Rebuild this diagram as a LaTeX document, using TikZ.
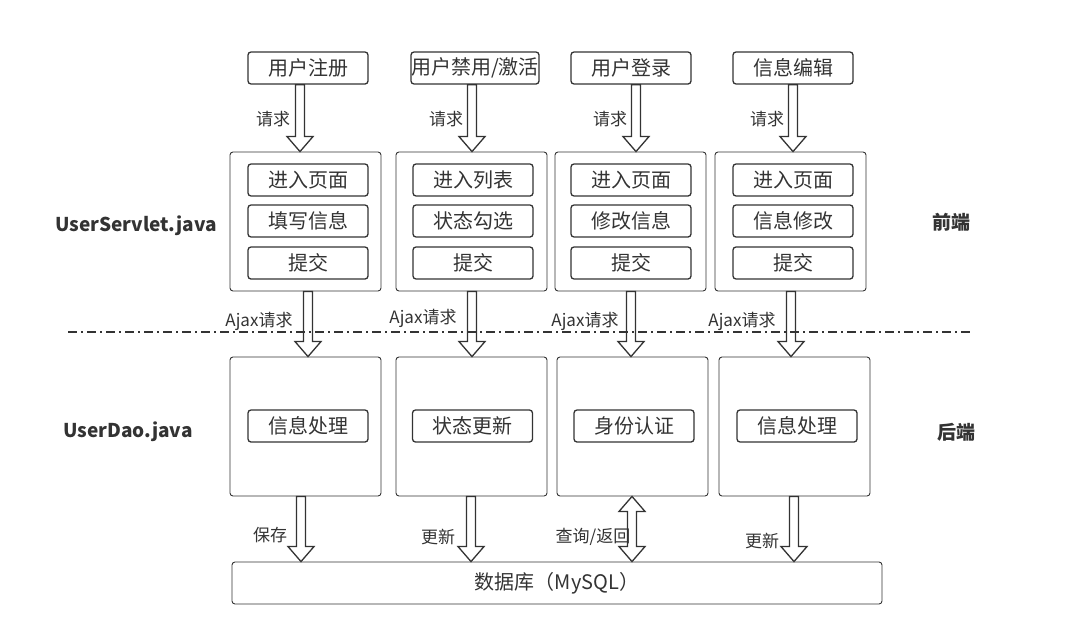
\documentclass[tikz,border=0pt]{standalone}
\usepackage{fontspec}
\setmainfont{Noto Sans CJK SC}
\usetikzlibrary{calc}
\definecolor{linegray}{HTML}{333333}
\tikzset{
  box/.style={draw=linegray, line width=1.3pt, rounded corners=3pt, minimum width=120pt, minimum height=32pt, inner sep=0pt, font=\fontsize{20}{20}\selectfont},
  group/.style={draw=linegray, line width=0.9pt, rounded corners=3pt, minimum width=151pt, minimum height=139pt, inner sep=0pt},
  lbl/.style={font=\fontsize{17}{17}\selectfont, inner sep=0pt},
  side/.style={font=\fontsize{19}{19}\selectfont\bfseries, inner sep=0pt},
  hollow/.style={draw=linegray, line width=1.3pt, fill=white, line join=miter},
}
\def\makearrow#1#2#3{
  \draw[hollow] let \p1=(#2), \p2=(#3) in
    ({#1*1pt-4.5pt},\y1) -- ({#1*1pt-4.5pt},{\y2+15pt}) -- ({#1*1pt-13pt},{\y2+15pt})
    -- ({#1*1pt},\y2) -- ({#1*1pt+13pt},{\y2+15pt}) -- ({#1*1pt+4.5pt},{\y2+15pt})
    -- ({#1*1pt+4.5pt},\y1) -- cycle;
}
\def\makedoublearrow#1#2#3{
  \draw[hollow] let \p1=(#2), \p2=(#3) in
    ({#1*1pt-4.5pt},{\y1-15pt}) -- ({#1*1pt-4.5pt},{\y2+15pt}) -- ({#1*1pt-13pt},{\y2+15pt})
    -- ({#1*1pt},\y2) -- ({#1*1pt+13pt},{\y2+15pt}) -- ({#1*1pt+4.5pt},{\y2+15pt})
    -- ({#1*1pt+4.5pt},{\y1-15pt}) -- ({#1*1pt+13pt},{\y1-15pt}) -- ({#1*1pt},\y1)
    -- ({#1*1pt-13pt},{\y1-15pt}) -- cycle;
}
\begin{document}
\begin{tikzpicture}[x=1pt, y=-1pt, color=linegray]
  \useasboundingbox (0,0) rectangle (1069,635);
  % top requests
  \node[box] (t1) at (308,68) {用户注册};
  \node[box, minimum width=128pt] (t2) at (475,68) {用户禁用/激活};
  \node[box] (t3) at (631,68) {用户登录};
  \node[box] (t4) at (793,68) {信息编辑};
  % front groups
  \node[group] (g1) at (305.5,221.5) {};
  \node[group] (g2) at (471.5,221.5) {};
  \node[group] (g3) at (630.5,221.5) {};
  \node[group] (g4) at (790.5,221.5) {};
  \node[box] (g1a) at (308,180) {进入页面};
  \node[box] (g1b) at (308,221) {填写信息};
  \node[box] (g1c) at (308,263) {提交};
  \node[box] (g2a) at (473,180) {进入列表};
  \node[box] (g2b) at (473,221) {状态勾选};
  \node[box] (g2c) at (473,263) {提交};
  \node[box] (g3a) at (631,180) {进入页面};
  \node[box] (g3b) at (631,221) {修改信息};
  \node[box] (g3c) at (631,263) {提交};
  \node[box] (g4a) at (793,180) {进入页面};
  \node[box] (g4b) at (793,221) {信息修改};
  \node[box] (g4c) at (793,263) {提交};
  % back groups
  \node[group] (d1) at (305.5,426.5) {};
  \node[group] (d2) at (471.5,426.5) {};
  \node[group] (d3) at (632.5,426.5) {};
  \node[group] (d4) at (794.5,426.5) {};
  \node[box] (d1a) at (308,426) {信息处理};
  \node[box] (d2a) at (472.5,426) {状态更新};
  \node[box] (d3a) at (634,426) {身份认证};
  \node[box] (d4a) at (797,426) {信息处理};
  % database
  \node[box, line width=0.9pt, minimum width=650pt, minimum height=42pt] (db) at (557,583) {数据库（MySQL）};
  % arrows
  \makearrow{300}{t1.south}{g1.north}
  \makearrow{472}{t2.south}{g2.north}
  \makearrow{636}{t3.south}{g3.north}
  \makearrow{793}{t4.south}{g4.north}
  \makearrow{308}{g1.south}{d1.north}
  \makearrow{472}{g2.south}{d2.north}
  \makearrow{631}{g3.south}{d3.north}
  \makearrow{791}{g4.south}{d4.north}
  \makearrow{301}{d1.south}{db.north}
  \makearrow{471}{d2.south}{db.north}
  \makedoublearrow{632}{d3.south}{db.north}
  \makearrow{794}{d4.south}{db.north}
  % labels
  \node[lbl] (q1) at (273,119) {请求};
  \node[lbl] (q2) at (446,119) {请求};
  \node[lbl] (q3) at (610,119) {请求};
  \node[lbl] (q4) at (767,119) {请求};
  \node[lbl] (a1) at (259,321) {Ajax请求};
  \node[lbl] (a2) at (423,318) {Ajax请求};
  \node[lbl] (a3) at (585,321) {Ajax请求};
  \node[lbl] (a4) at (742,321) {Ajax请求};
  \node[lbl] (s1) at (270,535) {保存};
  \node[lbl] (s2) at (438,537) {更新};
  \node[lbl] (s3) at (593,537) {查询/返回};
  \node[lbl] (s4) at (762,541) {更新};
  \node[side] (servlet) at (136,226) {UserServlet.java};
  \node[side] (dao) at (128,432) {UserDao.java};
  \node[side] (front) at (951,222) {前端};
  \node[side] (back) at (956,432) {后端};
  % divider
  \coordinate (divl) at (68,332);
  \coordinate (divr) at (972,332);
  \draw[line width=1.3pt, dash pattern=on 9pt off 4pt on 2pt off 4pt] (divl) -- (divr);
\end{tikzpicture}
\end{document}
